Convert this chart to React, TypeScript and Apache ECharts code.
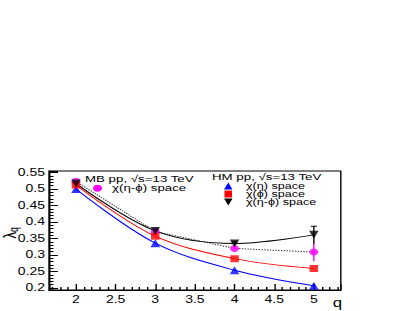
import React, { useEffect, useRef } from "react";
import * as echarts from "echarts";

const qValues = [2, 3, 4, 5];
const etaHM = [0.5, 0.336, 0.254, 0.207];
const phiHM = [0.512, 0.357, 0.289, 0.259];
const etaPhiHM = [0.517, 0.373, 0.335, 0.361];
const etaPhiMB = [0.523, 0.371, 0.32, 0.309];
const etaPhiHMErr = [0.003, 0.004, 0.005, 0.026];
const etaPhiMBErr = [0.003, 0.004, 0.005, 0.028];

const FONT = "Liberation Sans";
const BLUE = "#0000ff";
const RED = "#ff0000";
const BLACK = "#000000";
const MAGENTA = "#ff00ff";

// the reference picture is stretched horizontally; the chart is drawn narrower and widened by CSS
const SX = 1.4;
const W = 409 / SX;
const X = (px: number) => px / SX;

const pairs = (ys: number[]) => qValues.map((q, i) => [q, ys[i]]);
const triples = (ys: number[], es: number[]) => qValues.map((q, i) => [q, ys[i], es[i]]);

function errRender(color: string, cap: number) {
  return (params: any, api: any) => {
    const x = api.value(0);
    const y = api.value(1);
    const e = api.value(2);
    const top = api.coord([x, y + e]);
    const bot = api.coord([x, y - e]);
    const children: any[] = [
      { type: "line", shape: { x1: top[0], y1: top[1], x2: bot[0], y2: bot[1] }, style: { stroke: color, lineWidth: 1 } },
    ];
    if (cap > 0) {
      children.push({ type: "line", shape: { x1: top[0] - cap, y1: top[1], x2: top[0] + cap, y2: top[1] }, style: { stroke: color, lineWidth: 1 } });
    }
    return { type: "group", children };
  };
}

const legendText = (text: string, px: number, py: number, size = 9.5) => ({
  type: "text",
  x: X(px),
  y: py,
  style: { text, font: `${size}px "${FONT}"`, fill: BLACK, verticalAlign: "middle", align: "left", lineHeight: 8 },
});

export default function App() {
  const ref = useRef<HTMLDivElement>(null);
  useEffect(() => {
    const chart = echarts.init(ref.current!, null, { renderer: "svg" });
    chart.setOption({
      animation: false,
      backgroundColor: "#ffffff",
      grid: {
        left: X(49),
        right: X(409 - 341),
        top: 171,
        bottom: 21,
        show: true,
        borderColor: BLACK,
        borderWidth: 1,
        backgroundColor: "transparent",
        outerBoundsMode: "none",
        containLabel: false,
      },
      xAxis: {
        type: "value",
        min: 1.66,
        max: 5.34,
        splitNumber: 7,
        axisLine: { show: true, lineStyle: { color: BLACK, width: 1 } },
        splitLine: { show: false },
        axisTick: { show: true, inside: true, length: 6, lineStyle: { color: BLACK } },
        minorTick: { show: true, splitNumber: 5, length: 3, lineStyle: { color: BLACK } },
        axisLabel: { showMinLabel: false, showMaxLabel: false, margin: 5, color: BLACK, fontFamily: FONT, fontSize: 10 },
      },
      yAxis: {
        type: "value",
        min: 0.194,
        max: 0.5545,
        splitNumber: 7,
        axisLine: { show: true, lineStyle: { color: BLACK, width: 1 } },
        splitLine: { show: false },
        axisTick: { show: true, inside: true, length: X(9), lineStyle: { color: BLACK } },
        minorTick: { show: true, splitNumber: 5, length: X(4.5), lineStyle: { color: BLACK } },
        axisLabel: { showMinLabel: false, showMaxLabel: false, margin: X(4), color: BLACK, fontFamily: FONT, fontSize: 10 },
      },
      graphic: [
        {
          type: "text",
          x: X(9.5),
          y: 233,
          rotation: Math.PI / 2,
          style: {
            text: "{l|λ}{s|q}",
            align: "center",
            verticalAlign: "middle",
            rich: {
              l: { fontFamily: FONT, fontSize: 13, fill: BLACK },
              s: { fontFamily: FONT, fontSize: 8.5, fill: BLACK, padding: [7, 0, 0, 0] },
            },
          },
        },
        { type: "text", x: X(342), y: 303, style: { text: "q", font: `12px "${FONT}"`, fill: BLACK, align: "right", verticalAlign: "middle" } },
        legendText("MB pp, √s=13 TeV", 85, 179),
        { type: "ellipse", shape: { cx: X(97.5), cy: 188.3, rx: X(4.5), ry: 3.5 }, style: { fill: MAGENTA } },
        legendText("χ(η-ϕ) space", 112, 188),
        legendText("HM pp, √s=13 TeV", 212, 176.5),
        { type: "polygon", shape: { points: [[X(228.3), 182.5], [X(232.5), 189.5], [X(224), 189.5]] }, style: { fill: BLUE } },
        legendText("χ(η) space", 246, 186, 9),
        { type: "rect", shape: { x: X(224.5), y: 190.5, width: X(7.5), height: 7 }, style: { fill: RED } },
        legendText("χ(ϕ) space", 246, 194, 9),
        { type: "polygon", shape: { points: [[X(224), 198.5], [X(232.5), 198.5], [X(228.3), 205.5]] }, style: { fill: BLACK } },
        legendText("χ(η-ϕ) space", 246, 202, 9),
      ],
      series: [
        { name: "MB dotted", type: "line", data: pairs(etaPhiMB), symbol: "none", lineStyle: { color: "#333333", width: 1, type: "dotted" }, z: 2 },
        { name: "eta fit", type: "line", data: pairs(etaHM), smooth: 0.35, symbol: "none", lineStyle: { color: BLUE, width: 1 }, z: 2 },
        { name: "phi fit", type: "line", data: pairs(phiHM), smooth: 0.35, symbol: "none", lineStyle: { color: RED, width: 1 }, z: 2 },
        { name: "etaphi fit", type: "line", data: pairs(etaPhiHM), smooth: 0.35, symbol: "none", lineStyle: { color: BLACK, width: 1 }, z: 2 },
        { name: "MB err", type: "custom", data: triples(etaPhiMB, etaPhiMBErr), renderItem: errRender(MAGENTA, 0), z: 3 },
        { name: "HM err", type: "custom", data: triples(etaPhiHM, etaPhiHMErr), renderItem: errRender(BLACK, X(3)), z: 3 },
        { name: "χ(η-ϕ) space MB", type: "scatter", data: pairs(etaPhiMB), symbol: "circle", symbolSize: [X(9), 7], itemStyle: { color: MAGENTA }, z: 4 },
        { name: "χ(η) space", type: "scatter", data: pairs(etaHM), symbol: "triangle", symbolSize: [X(9.5), 8], itemStyle: { color: BLUE }, z: 5 },
        { name: "χ(ϕ) space", type: "scatter", data: pairs(phiHM), symbol: "rect", symbolSize: [X(8.5), 7], itemStyle: { color: RED }, z: 6 },
        { name: "χ(η-ϕ) space", type: "scatter", data: pairs(etaPhiHM), symbol: "triangle", symbolRotate: 180, symbolSize: [X(9.5), 8], itemStyle: { color: BLACK }, z: 7 },
      ],
    });
    return () => chart.dispose();
  }, []);
  return (
    <div style={{ position: "absolute", left: 0, top: 0, width: 409, height: 311, overflow: "hidden", background: "#fff" }}>
      <div ref={ref} style={{ width: W, height: 311, transform: `scaleX(${SX})`, transformOrigin: "0 0" }} />
    </div>
  );
}
